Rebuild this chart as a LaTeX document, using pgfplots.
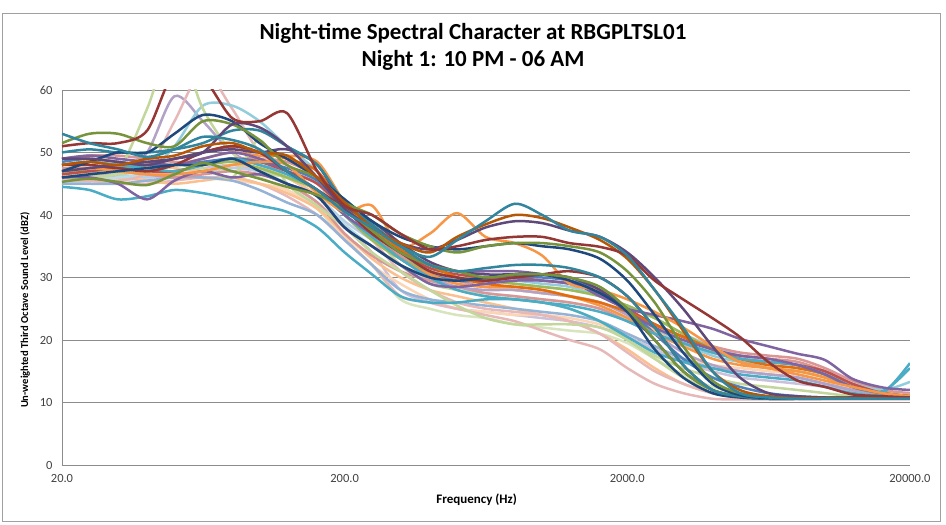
\documentclass[border=0pt]{standalone}
\usepackage{pgfplots}
\pgfplotsset{compat=1.18}
\usepackage{pgfplotstable}
\usepackage{fontspec}
\setmainfont{Carlito}

\definecolor{gridc}{HTML}{8C8C8C}
\definecolor{tickc}{HTML}{404040}
\definecolor{borderc}{HTML}{A0A0A0}
\definecolor{cDR}{HTML}{953735}
\definecolor{cT}{HTML}{31859C}
\definecolor{cBR}{HTML}{B65708}
\definecolor{cDP}{HTML}{5F497A}
\definecolor{cO}{HTML}{77933C}
\definecolor{cDB}{HTML}{1F497D}
\definecolor{cOR}{HTML}{F79646}
\definecolor{cOR2}{HTML}{E46C0A}
\definecolor{cP}{HTML}{8064A2}
\definecolor{cA}{HTML}{4BACC6}
\definecolor{cB}{HTML}{4F81BD}
\definecolor{cR}{HTML}{C0504D}
\definecolor{cG}{HTML}{9BBB59}
\definecolor{cLG}{HTML}{C3D69B}
\definecolor{cPG}{HTML}{D7E4BD}
\definecolor{cLP}{HTML}{B3A2C7}
\definecolor{cLav}{HTML}{CCC1DA}
\definecolor{cPK}{HTML}{E6B9B8}
\definecolor{cRose}{HTML}{D99694}
\definecolor{cPeach}{HTML}{FAC090}
\definecolor{cPO}{HTML}{FCD5B5}
\definecolor{cLB}{HTML}{93CDDD}
\definecolor{cLA}{HTML}{B7DEE8}
\definecolor{cPB}{HTML}{B9CDE5}
\definecolor{cBL}{HTML}{95B3D7}

\pgfplotstableread{
name c0 c1 c2 c3 c4 c5 c6 c7 c8 c9 c10 c11 c12 c13 c14 c15 c16 c17 c18 c19 c20 c21 c22 c23 c24 c25 c26 c27 c28 c29 c30
f 20 25 31.5 40 50 63 80 100 125 160 200 250 315 400 500 630 800 1000 1250 1600 2000 2500 3150 4000 5000 6300 8000 10000 12500 16000 20000
s38 46.5 46.5 46 46 46.5 47 47 46 44 41 36 32 26.5 25 24 23.5 22.5 22 21.5 21 19.5 17 14.5 12.5 11.5 11 10.8 10.7 10.7 10.7 10.7
s37 45.5 45.5 46 46.5 47 47.5 48 47 45 42 38 34 28 26 25 24.5 24 23.5 23 22 20.5 18.5 16.5 15 14 13.5 13 12.5 11.8 11.2 11
s31 45 45 45.5 46 46.5 46 45.5 45 44 41 36.5 32 29 26.5 25 24.5 24 24 23.5 22.5 21 19 17 16 15.5 15 14.5 13.5 12 11.2 11
s24 45.5 45.5 45 45 45.5 46 46 45 43 40 36 32 27 26 25 24 23 21.5 20 18.5 15.5 13 11.5 10.6 10.5 10.5 10.5 10.5 10.5 10.5 10.5
s25 46 46.5 46 45.5 45 45.5 46 45 43.5 41 37 33 30 28 27 26 25 24 23 21 18.5 15.5 13 11.5 10.8 10.6 10.6 10.6 10.6 10.6 10.6
s26 47 47 46.5 46 46.5 47 47.5 47 46 43 39 36 33 31 30 29.5 29 28.5 28 27 25.5 23.5 21 19 17.5 16.5 16 15 13 11.8 11.2
s36 46 46 46 46.5 47 48 49 48 46 43 38.5 35 32 29.5 28 27.5 27 26.5 26 25 23.5 21.5 19.5 18 17 16.5 16 15 13 11.7 11.2
s22 45 45 45 45.5 46 46 45.5 44 42 40 36 32 28 26.5 26 25.5 25 24.5 24 23 21 19 17 15.5 15 14.5 14 13 12 11.3 11
s21 47.5 47.5 47 46.5 46 46.5 47 46.5 45 42 37 33.5 31 29.5 28.5 27.5 27 26.5 26 25 23 21 19.5 18 17.5 17 16.5 15 13 11.5 11
s35 49 49.5 49.5 49 48.5 48.5 49 49 48.5 46 41 37 33.5 31 29.5 28.5 28 27.5 27 26 24.5 22.5 20.5 19 18 17.5 17 15.5 13.5 12 11.5
s19 47 47.5 48 48 47.5 47 48 47.5 46 43 38 35 32 30 29 28.5 28 27.5 27 26 24 21.5 19.5 18 17 16.5 16 14.5 13 11.5 11.2
s13 47 47 46.5 50 59 55 50 48 47 45 40 36 33 30 28.5 28 28 27.5 27 26 24 21 18 16 15 14.5 14 13 12 11.2 11
s14 46 46 45.5 47 55 63 57 50 47 44 40 36 31 28 26 25 24.5 24 23 21 18 15 13 11.5 10.8 10.6 10.6 10.6 10.6 10.6 10.6
s15 48 48 47.5 47 51 57.5 57.5 55 51 47 42 38 34 31 30 29.5 29.5 29 28.5 27 25 22 19.5 17.5 16.5 16 15.5 14.5 13 12 13.3
s12 47 46.5 47 57 68 57 50 47 46 44 41 37 32 29 28 27 26.5 26 25 23 20 17.5 15.5 14 13 12.5 12 11.5 11 10.8 10.8
s23 46 46 46.5 47 47 47.5 46 52 45 41.5 38 34 31 28 25.5 23.5 22.5 22.5 22.5 22 20 17 14 12 11 10.7 10.7 10.7 10.7 10.7 10.7
s32 47 47 47.5 48 48 48 48.5 47.5 46 44 40 36 33 31 30 29.5 29 28.5 28 27 25.5 23.5 21 18.5 16.5 15.5 15 14 12.5 11.5 11
s28 46.5 47 47.5 47 47 48 49 48.5 47 45 41 37.5 34 31.5 30.5 30 30 29.5 29 27.5 25 22.5 20.5 18.5 17 16.5 16 15 13 11.5 11
s30 48.5 49 48.5 48 48 48.5 49 48.5 47.5 45.5 41 37 33 30.5 29.5 29.5 30 30 29.5 28 25 21 17 14 12.5 11.5 11 10.8 10.7 10.7 10.7
s20 49 49 48.5 47.5 48 49 50 49.5 49.5 48.5 42 37 33 30.5 29 28.5 28.5 28 27 25.5 23.5 21 19 17 16 15.5 15 14 12.5 11.3 11
s34 48 48.5 48 48 49 50 51 50 49 47 41 38 34.5 32 30 29 28.5 28 27 26 24.5 22.5 20.5 18.5 17 16 15.5 14.5 12.5 11.5 11
s27 48 48.5 48 47.5 47 48 49 48 46.5 44 40 36.5 33 30 28 27 26.5 26 25.5 24.5 23 21 19.5 18 17 16.5 16 14.5 12.5 11.8 15.5
s16 44.5 44 42.5 43 44 43.5 42.5 41.5 40.5 38 34 30.5 27 26 26 26.5 26.5 26 25 23 20.5 18 16.5 15.5 14.5 14 13.5 12.5 11.5 11.5 16.3
s17 46 46 45 42.5 45.5 47 46 46.5 45 43 38 35 32 29 28.5 29 29.5 29.5 29 27.5 24.5 22 20 18.5 17.5 17 16 14.5 12.5 11.5 11
s18 49 49.5 49 48.5 48 49 50 49 47 44 40 37 34 32 31 31 31 30.5 29.5 27 25 24 23 21.8 20.2 19 17.8 16.8 13.8 12.4 12
s11 47 47.5 47 46.5 46.5 47 48 48.5 48 43.5 40.5 41.5 35 37 40.3 36.5 35.5 33.5 29 28 26.5 24.5 22 19 16.5 15.5 14.5 13.5 12.5 11.5 11
s10 48 48 47.5 47 48 50 51 50 47 44 41 37 34 31 30 29.5 30 30.5 31 30 27 22 16 12 11 10.7 10.7 10.7 10.7 10.7 10.7
s33 47 47.5 48 48.5 49 50 50.5 50 50.5 48 41.5 39 35.5 32.5 31 30.5 30.5 30.5 30 28 24.5 20 15 12 11 10.7 10.7 10.7 10.7 10.7 10.7
s08 46 46.5 47 47.5 48 48 49 47 45 43 38 35 32 30 29.5 30 30.5 30.5 29.5 27.5 24.5 18.5 14 11.5 10.8 10.6 10.6 10.6 10.6 10.6 10.6
s06 45.3 45.8 45.3 44.8 46.5 48.3 47 45.8 44.5 43.2 41 37.5 34 32 31 30 30.5 30.5 30 28.5 25 20 15 12 11 10.7 10.7 10.7 10.7 10.7 10.7
s09 50 50.5 50 50 50.5 51.5 53.5 53.5 51 48 42 38.5 35 32 31 31.5 32 32 31.5 30 27 22 16 12 11 10.6 10.6 10.6 10.6 10.6 10.6
s07 47 48.5 50 50 53 56 55 51.5 49 46 42.5 39 36.5 35 34.5 35 35.5 35 34.5 33 29.5 24 18 13 11.2 10.7 10.7 10.7 10.7 10.7 10.7
s05 51.5 53 53 51.5 51 55 54.5 52 48 46 42 40 37 35 34 35 35.5 35.5 35 34 31 26 19 13.5 11.5 11 10.8 10.8 10.8 10.8 10.8
s04 49 49 48.5 48 49 50 54.5 54 51 46 41 38 35.5 34.5 36 38 39 38.7 37.5 36.5 34 30 25 19 14 11.5 11 10.8 10.8 10.8 10.8
s03 48 48.5 48 49 49.5 51 51.5 50 49.5 46 42 38 35.5 34 36.5 38.5 40 39.5 38 36 33 28 21.5 15 12 11 10.7 10.7 10.7 10.7 10.7
s01 51 51.5 51.5 53.5 63 62 55.5 55 56.3 47 41.5 40 37 34.5 35 36 36.5 36.5 35.5 34.9 33.5 29.5 26.5 23.5 20.5 16.5 13.5 12.5 11.3 11 10.8
s02 53 51.5 50.5 49.3 50.5 52.5 52 50.5 47 44 40.5 38 35 33.3 36 39 41.8 40 37.5 36.5 33.5 28 22 15 11.5 10.8 10.6 10.6 10.6 10.6 10.6
}\raw
\pgfplotstabletranspose[colnames from=name]\data\raw

\begin{document}
\begin{tikzpicture}
\begin{axis}[
  scale only axis, width=848pt, height=375pt,
  xmode=log,
  xmin=20, xmax=20000, ymin=0, ymax=60,
  xtick={20,200,2000,20000},
  xticklabels={20.0,200.0,2000.0,20000.0},
  xminorticks=false,
  ytick={0,10,20,30,40,50,60},
  axis lines=left,
  axis line style={-, draw=gridc, line width=0.9pt},
  ymajorgrids,
  major grid style={draw=gridc, line width=0.9pt},
  major tick length=0pt,
  minor tick length=0pt,
  tick label style={font=\fontsize{12.5}{14}\selectfont, text=tickc},
  xticklabel style={yshift=-6pt},
  yticklabel style={xshift=-6pt},
  /pgf/number format/assume math mode=true,
  every axis x label/.style={at={(rel axis cs:0.489,-0.0933)}, anchor=center, font=\bfseries\fontsize{13}{15}\selectfont},
  every axis y label/.style={at={(rel axis cs:-0.0436,0.413)}, anchor=center, rotate=90, font=\bfseries\fontsize{10.6}{12}\selectfont},
  xlabel={Frequency (Hz)},
  ylabel={Un-weighted Third Octave Sound Level (dBZ)},
  clip mode=individual,
  every axis plot/.append style={smooth, line width=2.5pt, mark=none},
]
\addplot[cPG]   table[x=f,y=s38]{\data};
\addplot[cLav]  table[x=f,y=s37]{\data};
\addplot[cPO]   table[x=f,y=s31]{\data};
\addplot[cPK]   table[x=f,y=s24]{\data};
\addplot[cPeach] table[x=f,y=s25]{\data};
\addplot[cPB]   table[x=f,y=s26]{\data};
\addplot[cLA]   table[x=f,y=s36]{\data};
\addplot[cBL]   table[x=f,y=s22]{\data};
\addplot[cRose] table[x=f,y=s21]{\data};
\addplot[cRose] table[x=f,y=s35]{\data};
\addplot[cPeach] table[x=f,y=s19]{\data};
\addplot[cLP]   table[x=f,y=s13]{\data};
\addplot[cPK]   table[x=f,y=s14]{\data};
\addplot[cLB]   table[x=f,y=s15]{\data};
\addplot[cLG]   table[x=f,y=s12]{\data};
\addplot[cLG]   table[x=f,y=s23]{\data};
\addplot[cG]    table[x=f,y=s32]{\data};
\addplot[cR]    table[x=f,y=s28]{\data};
\addplot[cB]    table[x=f,y=s30]{\data};
\addplot[cOR]   table[x=f,y=s20]{\data};
\addplot[cOR2]  table[x=f,y=s34]{\data};
\addplot[cA]    table[x=f,y=s27]{\data};
\addplot[cA]    table[x=f,y=s16]{\data};
\addplot[cP]    table[x=f,y=s17]{\data};
\addplot[cP]    table[x=f,y=s18]{\data};
\addplot[cOR]   table[x=f,y=s11]{\data};
\addplot[cDR]   table[x=f,y=s10]{\data};
\addplot[cDP]   table[x=f,y=s33]{\data};
\addplot[cDB]   table[x=f,y=s08]{\data};
\addplot[cO]    table[x=f,y=s06]{\data};
\addplot[cT]    table[x=f,y=s09]{\data};
\addplot[cDB]   table[x=f,y=s07]{\data};
\addplot[cO]    table[x=f,y=s05]{\data};
\addplot[cDP]   table[x=f,y=s04]{\data};
\addplot[cBR]   table[x=f,y=s03]{\data};
\addplot[cDR]   table[x=f,y=s01]{\data};
\addplot[cT]    table[x=f,y=s02]{\data};
\coordinate (T1) at (rel axis cs:0.4847,1.152);
\coordinate (T2) at (rel axis cs:0.4847,1.08);
\coordinate (B1) at (rel axis cs:-0.0708,1.2053);
\coordinate (B2) at (rel axis cs:1.0354,-0.1493);
\coordinate (P1) at (rel axis cs:-0.0731,1.24);
\coordinate (P2) at (rel axis cs:1.0425,-0.16);
\end{axis}
\draw[draw=borderc, line width=0.8pt] (B1) rectangle (B2);
\path (P1) rectangle (P2);
\node[font=\bfseries\fontsize{23}{26}\selectfont] at (T1) {Night-time Spectral Character at RBGPLTSL01};
\node[font=\bfseries\fontsize{23}{26}\selectfont] at (T2) {Night 1: 10 PM - 06 AM};
\end{tikzpicture}
\end{document}
